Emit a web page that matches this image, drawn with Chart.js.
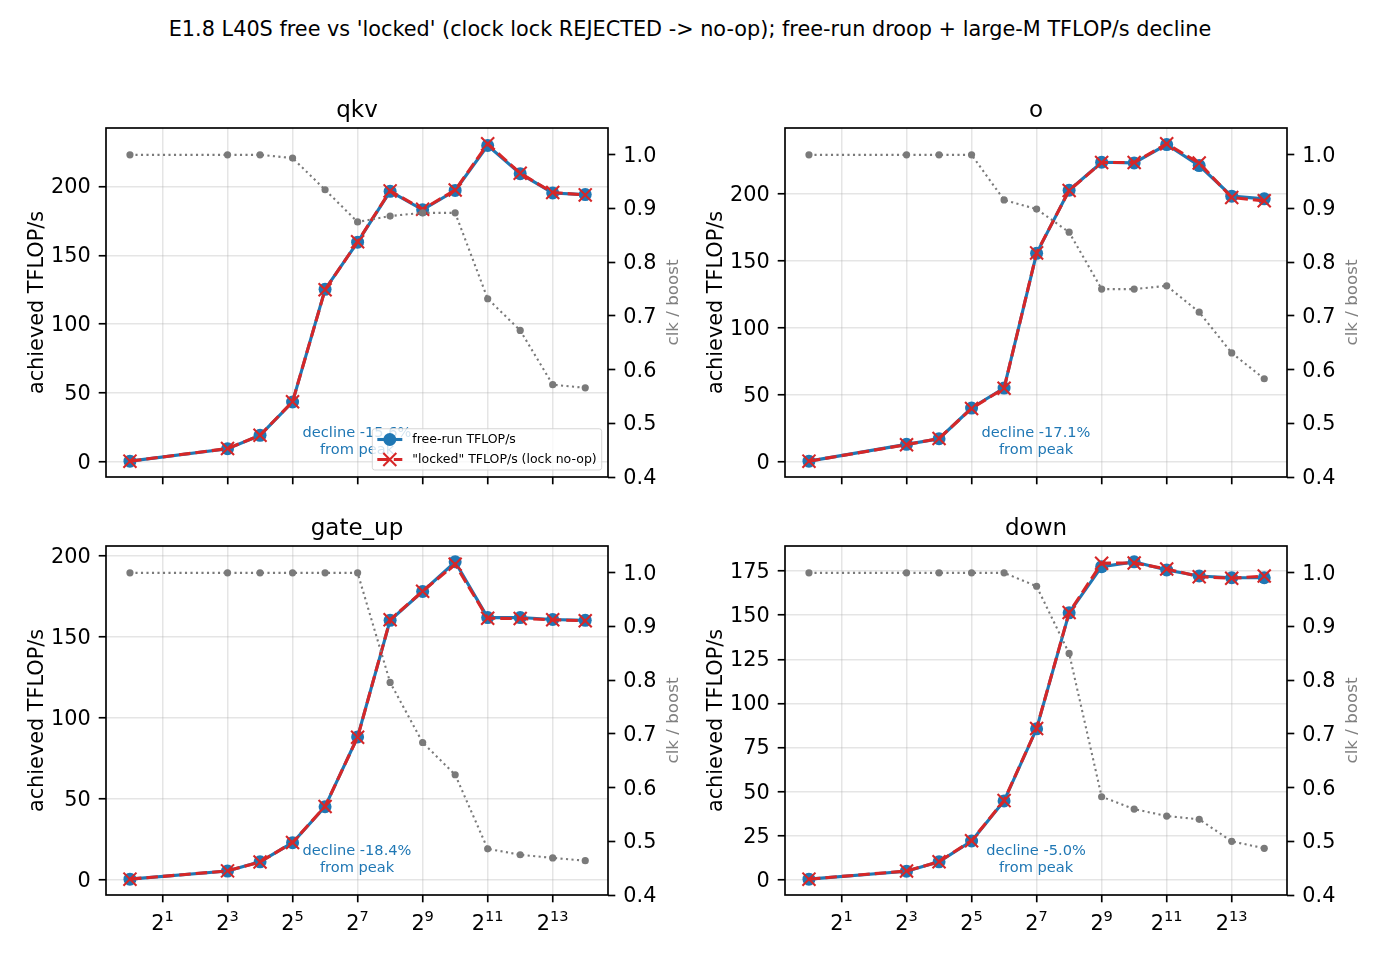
<!DOCTYPE html>
<html>
<head>
<meta charset="utf-8">
<script src="https://cdn.jsdelivr.net/npm/chart.js@4.4.1/dist/chart.umd.min.js"></script>
<style>
  body { margin: 0; background: #fff; }
  #fig { position: relative; width: 1380px; height: 960px; overflow: hidden; font-family: "DejaVu Sans", sans-serif; }
  #sup { position: absolute; left: 0; top: 19px; width: 1380px; text-align: center; font-size: 20.8px; line-height: 20.8px; color: #000; white-space: nowrap; }
  canvas { position: absolute; }
</style>
</head>
<body>
<div id="fig">
  <div id="sup">E1.8 L40S free vs 'locked' (clock lock REJECTED -&gt; no-op); free-run droop + large-M TFLOP/s decline</div>
  <canvas id="c0"></canvas>
  <canvas id="c1"></canvas>
  <canvas id="c2"></canvas>
  <canvas id="c3"></canvas>
</div>
<script>
// M sizes (x), log2 axis
const M = [1, 8, 16, 32, 64, 128, 256, 512, 1024, 2048, 4096, 8192, 16384];
const xTicks = [2, 8, 32, 128, 512, 2048, 8192];

const panelNames = ['qkv', 'o', 'gate_up', 'down'];

// achieved TFLOP/s, free-run and "locked"
const qkvFree    = [0.7, 9.7, 19.4, 43.6, 125.3, 159.5, 196.4, 183.0, 197.0, 229.6, 209.2, 195.2, 194.0];
const qkvLocked  = [0.7, 9.8, 19.5, 43.8, 125.0, 159.8, 196.7, 183.3, 197.3, 230.8, 209.5, 195.5, 193.8];
const oFree      = [0.7, 13.2, 17.4, 40.3, 55.2, 155.7, 202.7, 223.6, 223.1, 236.8, 221.1, 198.3, 196.3];
const oLocked    = [0.7, 13.0, 17.6, 40.0, 55.0, 156.0, 202.5, 223.4, 223.4, 237.3, 223.0, 197.3, 194.8];
const gateFree   = [0.4, 5.4, 11.1, 22.9, 45.1, 88.2, 160.2, 178.0, 196.3, 161.9, 161.9, 160.7, 160.2];
const gateLocked = [0.4, 5.5, 11.0, 23.0, 45.3, 88.0, 160.5, 178.2, 194.8, 161.5, 161.3, 160.5, 160.0];
const downFree   = [0.4, 4.9, 10.2, 22.0, 44.7, 85.6, 151.3, 177.5, 180.2, 175.6, 172.2, 171.2, 171.2];
const downLocked = [0.4, 5.0, 10.3, 22.2, 44.9, 85.8, 151.5, 179.4, 179.6, 176.2, 171.8, 170.9, 172.2];

// clk / boost (right axis)
const qkvClk  = [1.0, 1.0, 1.0, 0.994, 0.935, 0.875, 0.886, 0.892, 0.892, 0.732, 0.673, 0.572, 0.566];
const oClk    = [1.0, 1.0, 1.0, 1.0, 0.916, 0.899, 0.856, 0.750, 0.750, 0.756, 0.707, 0.631, 0.583];
const gateClk = [1.0, 1.0, 1.0, 1.0, 1.0, 1.0, 0.796, 0.684, 0.624, 0.486, 0.475, 0.469, 0.464];
const downClk = [1.0, 1.0, 1.0, 1.0, 1.0, 0.975, 0.850, 0.583, 0.560, 0.547, 0.541, 0.500, 0.487];

// tick labels
const leftTicksQkv  = [0, 50, 100, 150, 200];
const leftTicksO    = [0, 50, 100, 150, 200];
const leftTicksGate = [0, 50, 100, 150, 200];
const leftTicksDown = [0, 25, 50, 75, 100, 125, 150, 175];
const clkTicks = [0.4, 0.5, 0.6, 0.7, 0.8, 0.9, 1.0];

const declineLabels = ['-15.6%', '-17.1%', '-18.4%', '-5.0%'];

const panels = [
  { name: panelNames[0], free: qkvFree,  locked: qkvLocked,  clk: qkvClk,  ticks: leftTicksQkv,  decline: declineLabels[0] },
  { name: panelNames[1], free: oFree,    locked: oLocked,    clk: oClk,    ticks: leftTicksO,    decline: declineLabels[1] },
  { name: panelNames[2], free: gateFree, locked: gateLocked, clk: gateClk, ticks: leftTicksGate, decline: declineLabels[2] },
  { name: panelNames[3], free: downFree, locked: downLocked, clk: downClk, ticks: leftTicksDown, decline: declineLabels[3] }
];

// axes rectangles in the figure
const axesBox = [
  { l: 106, t: 128, r: 608, b: 477 },
  { l: 785, t: 128, r: 1287, b: 477 },
  { l: 106, t: 546, r: 608, b: 895 },
  { l: 785, t: 546, r: 1287, b: 895 }
];
const ML = 100, MR = 90, MT = 45, MB = 50;

const FONT = '"DejaVu Sans", sans-serif';
const BLUE = '#1f77b4', RED = '#d62728', GRAY = '#808080';
const GRID = 'rgba(176,176,176,0.33)';
const TL = 7.3;

function pts(ys) { return M.map((x, i) => ({ x: x, y: ys[i] })); }

function lims(arrs) {
  const all = arrs.flat();
  const lo = Math.min(...all), hi = Math.max(...all);
  const pad = (hi - lo) * 0.05;
  return [lo - pad, hi + pad];
}

const lx0 = Math.log2(M[0]), lx1 = Math.log2(M[M.length - 1]);
const xMin = Math.pow(2, lx0 - (lx1 - lx0) * 0.05);
const xMax = Math.pow(2, lx1 + (lx1 - lx0) * 0.05);

const decorPlugin = {
  id: 'decor',
  afterDraw(chart, args, opts) {
    const ctx = chart.ctx, a = chart.chartArea;
    ctx.save();
    // spines
    ctx.strokeStyle = '#000';
    ctx.lineWidth = 1.67;
    ctx.strokeRect(a.left, a.top, a.right - a.left, a.bottom - a.top);

    // x tick labels as 2^n (bottom row)
    if (opts.xLabels) {
      const xs = chart.scales.x;
      ctx.fillStyle = '#000';
      ctx.textBaseline = 'alphabetic';
      ctx.textAlign = 'left';
      xTicks.forEach(v => {
        const e = String(Math.round(Math.log2(v)));
        ctx.font = '20.8px ' + FONT;
        const wb = ctx.measureText('2').width;
        ctx.font = '14.6px ' + FONT;
        const we = ctx.measureText(e).width;
        const x0 = xs.getPixelForValue(v) - (wb + we) / 2;
        ctx.font = '20.8px ' + FONT;
        ctx.fillText('2', x0, a.bottom + 35);
        ctx.font = '14.6px ' + FONT;
        ctx.fillText(e, x0 + wb, a.bottom + 26);
      });
    }

    // subplot title
    ctx.fillStyle = '#000';
    ctx.font = '23px ' + FONT;
    ctx.textAlign = 'center';
    ctx.textBaseline = 'alphabetic';
    const cx = (a.left + a.right) / 2;
    ctx.fillText(opts.title, cx, a.top - 11);

    // right axis label
    ctx.save();
    ctx.translate(a.right + 70, (a.top + a.bottom) / 2);
    ctx.rotate(-Math.PI / 2);
    ctx.fillStyle = GRAY;
    ctx.font = '16.7px ' + FONT;
    ctx.fillText('clk / boost', 0, 0);
    ctx.restore();

    // decline annotation
    ctx.fillStyle = BLUE;
    ctx.font = '14.6px ' + FONT;
    ctx.textBaseline = 'middle';
    ctx.fillText('decline ' + opts.decline, cx, a.bottom - 43.7);
    ctx.fillText('from peak', cx, a.bottom - 26.3);

    // legend (first panel only)
    if (opts.legend) {
      const fs = 12.5;
      ctx.font = fs + 'px ' + FONT;
      const items = chart.data.datasets.slice(0, 2);
      const tw = Math.max(...items.map(d => ctx.measureText(d.label).width));
      const pad = 0.4 * fs, hl = 2 * fs, htp = 0.8 * fs;
      const w = pad + hl + htp + tw + pad;
      const h = 3.3 * fs;
      const right = a.right - 6.3, bottom = a.bottom - 7;
      const left = right - w, top = bottom - h;
      ctx.beginPath();
      ctx.roundRect(left, top, w, h, 2.5);
      ctx.fillStyle = 'rgba(255,255,255,0.8)';
      ctx.fill();
      ctx.strokeStyle = 'rgba(204,204,204,0.8)';
      ctx.lineWidth = 1;
      ctx.stroke();
      items.forEach((d, i) => {
        const y = bottom - 0.84 * fs - (1 - i) * 1.6 * fs;
        const x0 = left + pad;
        ctx.save();
        ctx.strokeStyle = d.borderColor;
        ctx.lineWidth = d.borderWidth;
        ctx.setLineDash(d.borderDash || []);
        ctx.beginPath();
        ctx.moveTo(x0, y);
        ctx.lineTo(x0 + hl, y);
        ctx.stroke();
        ctx.setLineDash([]);
        const mx = x0 + hl / 2;
        if (d.pointStyle === 'crossRot') {
          const r = d.pointRadius * Math.SQRT1_2;
          ctx.lineWidth = d.pointBorderWidth;
          ctx.beginPath();
          ctx.moveTo(mx - r, y - r); ctx.lineTo(mx + r, y + r);
          ctx.moveTo(mx - r, y + r); ctx.lineTo(mx + r, y - r);
          ctx.stroke();
        } else {
          ctx.fillStyle = d.backgroundColor;
          ctx.beginPath();
          ctx.arc(mx, y, d.pointRadius, 0, Math.PI * 2);
          ctx.fill();
        }
        ctx.restore();
        ctx.fillStyle = '#000';
        ctx.textAlign = 'left';
        ctx.textBaseline = 'middle';
        ctx.fillText(d.label, x0 + hl + htp, y);
      });
    }
    ctx.restore();
  }
};

panels.forEach((p, k) => {
  const box = axesBox[k];
  const cv = document.getElementById('c' + k);
  const W = box.r - box.l + ML + MR, H = box.b - box.t + MT + MB;
  cv.width = W; cv.height = H;
  cv.style.left = (box.l - ML) + 'px';
  cv.style.top = (box.t - MT) + 'px';
  const [yMin, yMax] = lims([p.free, p.locked]);
  const bottomRow = k >= 2;

  new Chart(cv, {
    type: 'line',
    data: {
      datasets: [
        { label: 'free-run TFLOP/s', data: pts(p.free), yAxisID: 'y',
          borderColor: BLUE, backgroundColor: BLUE, borderWidth: 3.1,
          pointStyle: 'circle', pointRadius: 6.5, pointBorderWidth: 0, order: 2 },
        { label: '"locked" TFLOP/s (lock no-op)', data: pts(p.locked), yAxisID: 'y',
          borderColor: RED, backgroundColor: RED, borderWidth: 3.1, borderDash: [11.5, 5],
          pointStyle: 'crossRot', pointRadius: 9.2, pointBorderWidth: 2.1, order: 1 },
        { label: 'clk / boost', data: pts(p.clk), yAxisID: 'y1',
          borderColor: '#7a7a7a', backgroundColor: '#7a7a7a', borderWidth: 2.1, borderDash: [2.1, 3.4],
          pointStyle: 'circle', pointRadius: 3.6, pointBorderWidth: 0, order: 0 }
      ]
    },
    options: {
      responsive: false,
      animation: false,
      devicePixelRatio: 1,
      layout: { padding: { top: MT, left: 0, right: 0, bottom: 0 } },
      elements: { line: { tension: 0 } },
      plugins: {
        legend: { display: false },
        tooltip: { enabled: false },
        decor: { title: p.name, decline: p.decline, legend: k === 0, xLabels: bottomRow }
      },
      scales: {
        x: {
          type: 'logarithmic', position: 'bottom', min: xMin, max: xMax,
          afterFit: s => { s.height = MB; },
          afterBuildTicks: s => { s.ticks = xTicks.map(v => ({ value: v })); },
          ticks: { autoSkip: false, maxRotation: 0, minRotation: 0, padding: 8, color: '#000',
                   font: { family: FONT, size: 20.8 }, callback: () => '' },
          grid: { color: GRID, lineWidth: 1.5, tickColor: '#000', tickLength: TL, tickWidth: 1.67 },
          border: { display: false }
        },
        y: {
          type: 'linear', position: 'left', min: yMin, max: yMax,
          afterFit: s => { s.width = ML; },
          afterBuildTicks: s => { s.ticks = p.ticks.map(v => ({ value: v })); },
          ticks: { padding: 8, labelOffset: 1.5, color: '#000', font: { family: FONT, size: 20.8 }, callback: v => String(v) },
          grid: { color: GRID, lineWidth: 1.5, tickColor: '#000', tickLength: TL, tickWidth: 1.67 },
          border: { display: false },
          title: { display: true, text: 'achieved TFLOP/s', color: '#000',
                   font: { family: FONT, size: 20.8 }, padding: { top: 19, bottom: 0 } }
        },
        y1: {
          type: 'linear', position: 'right', min: 0.4, max: 1.05,
          afterFit: s => { s.width = MR; },
          afterBuildTicks: s => { s.ticks = clkTicks.map(v => ({ value: v })); },
          ticks: { padding: 8, labelOffset: 1.5, color: '#000', font: { family: FONT, size: 20.8 }, callback: v => v.toFixed(1) },
          grid: { drawOnChartArea: false, color: '#000', tickColor: '#000', tickLength: TL, tickWidth: 1.67 },
          border: { display: false }
        }
      }
    },
    plugins: [decorPlugin]
  });
});
</script>
</body>
</html>
